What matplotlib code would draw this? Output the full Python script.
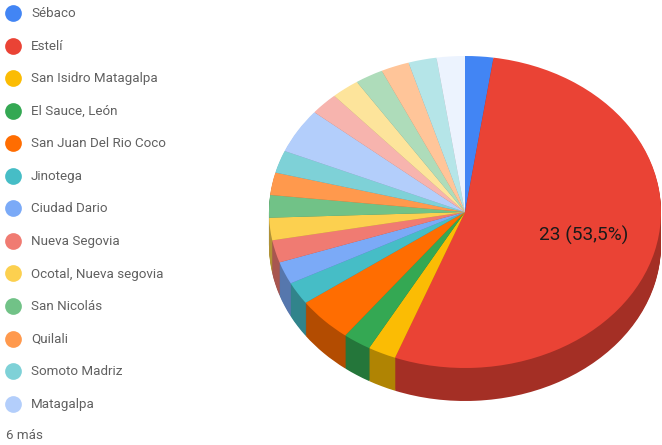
import matplotlib.pyplot as plt
from matplotlib.colors import to_rgb

plt.rcParams['font.family'] = ['Roboto', 'DejaVu Sans']

# Municipalities and number of answers
labels = ['Sébaco', 'Estelí', 'San Isidro Matagalpa', 'El Sauce, León',
          'San Juan Del Rio Coco', 'Jinotega', 'Ciudad Dario', 'Nueva Segovia',
          'Ocotal, Nueva segovia', 'San Nicolás', 'Quilali', 'Somoto Madriz',
          'Matagalpa']
values = [1, 23, 1, 1, 2, 1, 1, 1, 1, 1, 1, 1, 2, 1, 1, 1, 1, 1, 1]
colors = ['#4285F4', '#EA4335', '#FBBC04', '#34A853', '#FF6D01', '#46BDC6',
          '#7BAAF7', '#F07B72', '#FCD04F', '#71C287', '#FF994D', '#7ED1D7',
          '#B3CEFB', '#F7B4AE', '#FDE49B', '#AEDCBA', '#FFC599', '#B5E5E8',
          '#ECF3FE']
more_label = '6 más'

W, H = 662, 445
fig = plt.figure(figsize=(W / 100, H / 100), dpi=100)

# pie axes, squashed so the circle turns into a tilted disc
cx, cy, rx, ry, depth = 465, 212, 196, 156, 33
pie_ax = fig.add_axes([(cx - rx) / W, (H - cy - ry) / H, 2 * rx / W, 2 * ry / H])
pie_ax.axis('off')

dark = [tuple(c * 0.7 for c in to_rgb(col)) for col in colors]
for px in range(depth, 0, -1):
    pie_ax.pie(values, colors=dark, startangle=90, counterclock=False,
               center=(0, -px / ry), radius=1)
pie_ax.pie(values, colors=colors, startangle=90, counterclock=False, radius=1)
pie_ax.set_aspect('auto')
pie_ax.set_xlim(-1, 1)
pie_ax.set_ylim(-1, 1)
for patch in pie_ax.patches:
    patch.set_clip_on(False)

# pixel sized layer on top for the legend and the value label
page = fig.add_axes([0, 0, 1, 1], zorder=3)
page.set_xlim(0, W)
page.set_ylim(H, 0)
page.axis('off')

total = sum(values)
pct = f'{values[1] / total * 100:.1f}'.replace('.', ',')
page.text(583.5, 235, f'{values[1]} ({pct}%)', fontsize=13.7, color='#1a1a1a',
          ha='center', va='center')

# legend column
for i, name in enumerate(labels):
    y = 13 + i * 32.55
    page.scatter([13], [y], s=145, color=colors[i], linewidths=0)
    page.text(31, y + 0.7, name, fontsize=9.6, color='#606060', va='center')
page.text(6, 435.7, more_label, fontsize=9.6, color='#606060', va='center')

fig.savefig('out.png', dpi=100)
